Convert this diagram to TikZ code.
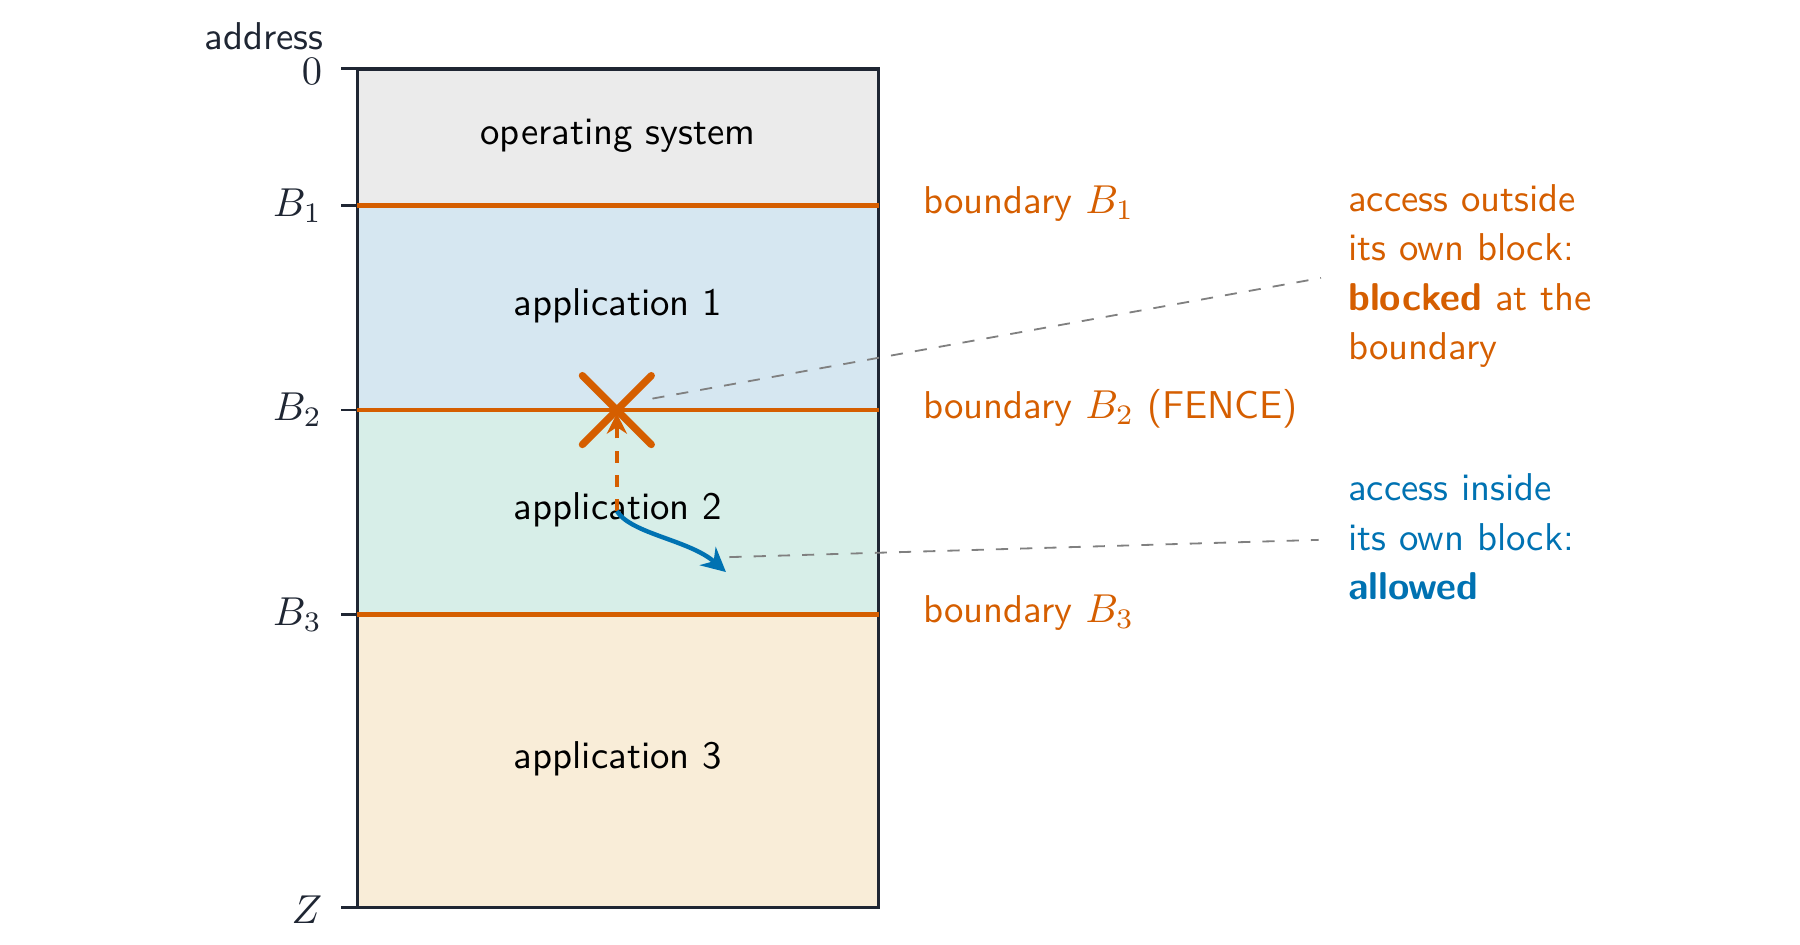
\documentclass[tikz,border=0pt]{standalone}
\usetikzlibrary{arrows.meta}
\begin{document}
\sffamily\fontsize{9.6}{12.2}\selectfont
\definecolor{org}{HTML}{D55E00}
\definecolor{blu}{HTML}{0072B2}
\definecolor{ink}{HTML}{1F2633}
\begin{tikzpicture}[x=0.01cm,y=-0.01cm,
  lbl/.style={inner sep=0pt,anchor=base west},
  ax/.style={inner sep=0pt,anchor=east,text=ink},
  bnd/.style={org,line width=1.1pt},
  tick/.style={ink,line width=0.7pt},
  lead/.style={gray,dashed,line width=0.45pt},
  note/.style={inner sep=0pt,anchor=north west,align=left}]
\useasboundingbox (0,0) rectangle (1567,822);
\fill[fill={rgb,255:red,235;green,235;blue,235}] (311,60) rectangle (765,179);
\fill[fill={rgb,255:red,214;green,231;blue,241}] (311,179) rectangle (765,357);
\fill[fill={rgb,255:red,215;green,238;blue,232}] (311,357) rectangle (765,535);
\fill[fill={rgb,255:red,249;green,237;blue,216}] (311,535) rectangle (765,790);
\draw[ink,line width=0.8pt] (311,60) rectangle (765,790);
\coordinate (b1l) at (311,179); \coordinate (b1r) at (765,179);
\coordinate (b2l) at (311,357); \coordinate (b2r) at (765,357);
\coordinate (b3l) at (311,535); \coordinate (b3r) at (765,535);
\draw[bnd] (b1l)--(b1r); \draw[bnd] (b2l)--(b2r); \draw[bnd] (b3l)--(b3r);
\foreach \y in {60,179,357,535,790} \draw[tick] (297,\y)--(311,\y);
\node[ax] (a0) at (281,62) {$0$};
\node[ax] (a1) at (281,179) {$B_1$};
\node[ax] (a2) at (281,357) {$B_2$};
\node[ax] (a3) at (281,535) {$B_3$};
\node[ax] (az) at (281,792) {$Z$};
\node[inner sep=0pt,text=ink] (addr) at (230,32) {address};
\node (os) at (538,118) {operating system};
\node (p1) at (538,266) {application 1};
\node (p2) at (538,444) {application 2};
\node (p3) at (538,661) {application 3};
\node[lbl,text=org] (l1) at (803,186) {boundary $B_1$};
\node[lbl,text=org] (l2) at (803,364) {boundary $B_2$ (FENCE)};
\node[lbl,text=org] (l3) at (803,542) {boundary $B_3$};
\node[note,text=org] (n1) at (1173,160) {access outside\\its own block:\\\textbf{blocked} at the\\boundary};
\node[note,text=blu] (n2) at (1173,412) {access inside\\its own block:\\\textbf{allowed}};
\coordinate (s) at (537,445);
\coordinate (x) at (537,357);
\coordinate (t) at (632,498);
\draw[org,dashed,line width=1.1pt,-{Stealth[length=5pt,width=5pt]}] (s)--(537,360);
\draw[org,line width=1.8pt,line cap=round] (507,327)--(567,387) (507,387)--(567,327);
\draw[blu,line width=1.1pt,-{Stealth[length=6pt,width=6pt]}] (s) .. controls (550,465) and (600,470) .. (t);
\coordinate (e1) at (568,347); \coordinate (f1) at (1150,242);
\coordinate (e2) at (635,485); \coordinate (f2) at (1148,470);
\draw[lead] (e1)--(f1);
\draw[lead] (e2)--(f2);
\end{tikzpicture}
\end{document}
